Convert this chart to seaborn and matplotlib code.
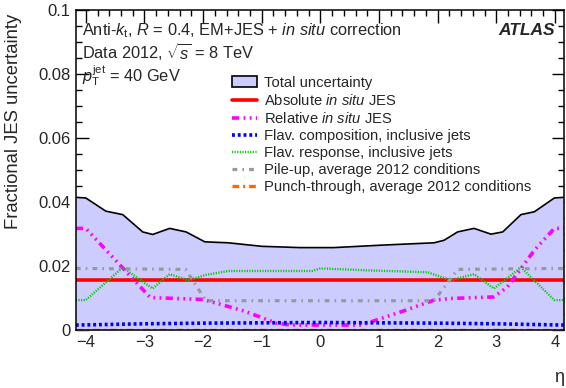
import matplotlib
matplotlib.use('Agg')
import matplotlib.pyplot as plt
from matplotlib.patches import Patch
from matplotlib.ticker import MultipleLocator, FuncFormatter
import seaborn as sns

# jet eta points + fractional JES uncertainties
eta_total = [-4.17, -4.0, -3.66, -3.37, -3.03, -2.86, -2.57, -2.29, -1.97, -1.57, -1.0, -0.34, 0.23,
             1.08, 1.94, 2.11, 2.34, 2.62, 2.91, 3.11, 3.42, 3.65, 3.99, 4.15]
total = [0.0415, 0.0413, 0.0372, 0.0361, 0.0307, 0.0299, 0.0318, 0.0307, 0.0276, 0.0273, 0.0262, 0.0258, 0.0258,
         0.0266, 0.0273, 0.0281, 0.0307, 0.0318, 0.0300, 0.0307, 0.0361, 0.0370, 0.0413, 0.0415]

eta_abs = [-4.17, 4.15]
absolute = [0.0156, 0.0156]

eta_rel = [-4.17, -4.0, -2.9, -2.0, -1.3, -0.75, -0.5, 0.7, 1.37, 1.94, 2.22, 2.96, 3.19, 3.65, 3.99, 4.15]
relative = [0.0318, 0.0318, 0.0102, 0.0096, 0.0060, 0.0022, 0.0016, 0.0016, 0.0057, 0.0094, 0.0099, 0.0104,
            0.0135, 0.0250, 0.0318, 0.0318]

eta_comp = [-4.17, -3.0, -2.0, 0.0, 2.0, 3.0, 4.15]
flav_comp = [0.0016, 0.0020, 0.0022, 0.0024, 0.0022, 0.0020, 0.0016]

eta_resp = [-4.17, -4.0, -3.37, -2.86, -2.57, -2.25, -1.97, -1.57, -0.14, 0.0, 0.8, 1.83, 2.22, 2.62, 2.96,
            3.42, 3.99, 4.15]
flav_resp = [0.0094, 0.0094, 0.0196, 0.0130, 0.0175, 0.0156, 0.0172, 0.0185, 0.0185, 0.0193, 0.0187, 0.0181,
             0.0156, 0.0175, 0.0130, 0.0196, 0.0094, 0.0094]

eta_pu = [-4.17, -2.3, -1.95, 1.94, 2.34, 4.15]
pileup = [0.0193, 0.0190, 0.0092, 0.0092, 0.0190, 0.0193]

eta_pt = [-4.17, 4.15]
punch = [0.0002, 0.0002]

sns.set_theme(style='ticks')
plt.rcParams['font.family'] = ['Liberation Sans', 'DejaVu Sans']
plt.rcParams['mathtext.fontset'] = 'custom'
plt.rcParams['mathtext.rm'] = 'Liberation Sans'
plt.rcParams['mathtext.it'] = 'Liberation Sans:italic'
plt.rcParams['mathtext.bf'] = 'Liberation Sans:bold'

fig = plt.figure(figsize=(5.66, 3.88), dpi=100)
ax = fig.add_axes([0.134, 0.149, 0.862, 0.825])

fill_col = '#ccccff'
ax.fill_between(eta_total, 0, total, color=fill_col, lw=0)
sns.lineplot(x=eta_total, y=total, ax=ax, color='black', lw=1.2, sort=False, estimator=None)

series = [
    (eta_abs, absolute, '#ff0000', 2.6, '-', 'Absolute $\\mathit{in\\ situ}$ JES'),
    (eta_rel, relative, '#ff00ff', 2.6, (0, (2.0, 1.2, 0.5, 1.2, 0.5, 1.2, 0.5, 1.2)), 'Relative $\\mathit{in\\ situ}$ JES'),
    (eta_comp, flav_comp, '#0000ff', 2.6, (0, (0.8, 0.8)), 'Flav. composition, inclusive jets'),
    (eta_resp, flav_resp, '#00cc00', 1.7, (0, (0.5, 0.6)), 'Flav. response, inclusive jets'),
    (eta_pu, pileup, '#999999', 2.3, (0, (1.5, 1.6, 0.5, 1.6)), 'Pile-up, average 2012 conditions'),
    (eta_pt, punch, '#ff6600', 2.4, (0, (2.0, 1.2, 0.6, 1.2)), 'Punch-through, average 2012 conditions'),
]
for xs, ys, col, lw, ls, lab in series:
    sns.lineplot(x=xs, y=ys, ax=ax, color=col, lw=lw, linestyle=ls, sort=False, estimator=None, label=lab)

ax.set_xlim(-4.17, 4.15)
ax.set_ylim(0, 0.1)
ax.xaxis.set_major_locator(MultipleLocator(1))
ax.xaxis.set_minor_locator(MultipleLocator(0.2))
ax.yaxis.set_major_locator(MultipleLocator(0.02))
ax.yaxis.set_minor_locator(MultipleLocator(0.005))
ax.yaxis.set_major_formatter(FuncFormatter(lambda v, p: '%g' % round(v, 3)))
ax.xaxis.set_major_formatter(FuncFormatter(lambda v, p: ('%d' % round(v)).replace('-', '\u2212')))
ax.tick_params(which='both', direction='in', top=True, right=True, labelsize=12, width=1, color='black')
ax.tick_params(which='major', length=9)
ax.tick_params(which='minor', length=4.5)
ax.tick_params(axis='y', pad=4)
for sp in ax.spines.values():
    sp.set_linewidth(1.1)
    sp.set_color('black')

ax.set_ylabel('Fractional JES uncertainty', fontsize=13.3, loc='top')
ax.set_xlabel('\u03b7', fontsize=13, loc='right')
ax.xaxis.set_label_coords(1.0, -0.12)
ax.yaxis.set_label_coords(-0.11, 0.99)

ax.text(0.012, 0.935, 'Anti-$k_\\mathrm{t}$, $R$ = 0.4, EM+JES + $\\mathit{in\\ situ}$ correction',
        transform=ax.transAxes, fontsize=11.8, va='center')
ax.text(0.012, 0.868, 'Data 2012, $\\sqrt{s}$ = 8 TeV', transform=ax.transAxes, fontsize=11.8, va='center')
ax.text(0.012, 0.795, '$p_\\mathrm{T}^\\mathrm{jet}$ = 40 GeV', transform=ax.transAxes, fontsize=11.8, va='center')
ax.text(0.982, 0.935, 'ATLAS', transform=ax.transAxes, fontsize=12.5, fontweight='bold', style='italic',
        ha='right', va='center')

handles, labels = ax.get_legend_handles_labels()
box = Patch(facecolor=fill_col, edgecolor='black', lw=1.2)
ax.legend([box] + handles, ['Total uncertainty'] + labels, loc='upper left', bbox_to_anchor=(0.32, 0.795),
          frameon=False, fontsize=10.6, handlelength=1.7, handletextpad=0.48, labelspacing=0.21,
          borderpad=0, borderaxespad=0)

fig.savefig('out.png', dpi=100)
